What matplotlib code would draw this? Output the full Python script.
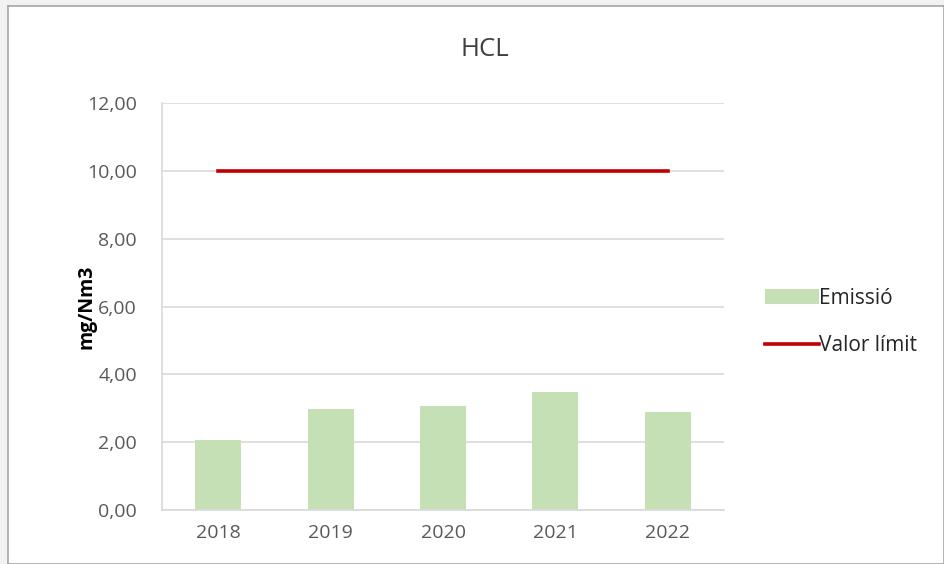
import matplotlib.pyplot as plt
import numpy as np

years = ['2018', '2019', '2020', '2021', '2022']
emissio = [2.05, 2.97, 3.08, 3.48, 2.90]
valor_limit = [10.0, 10.0, 10.0, 10.0, 10.0]
yticks = [0, 2, 4, 6, 8, 10, 12]

plt.rcParams['font.family'] = ['Open Sans', 'DejaVu Sans']

fig = plt.figure(figsize=(9.44, 5.64), dpi=100)
fig.patch.set_facecolor('#f2f2f2')

# white chart area with grey border
bg = fig.add_axes([8 / 944, 0, 1 - 8 / 944, 1 - 6 / 564], zorder=-1)
bg.set_facecolor('white')
bg.set_xticks([])
bg.set_yticks([])
for s in bg.spines.values():
    s.set_color('#a6a6a6')
    s.set_linewidth(1.2)

ax = fig.add_axes([162 / 944, 1 - 510 / 564, 562 / 944, 407 / 564])
ax.set_facecolor('none')

x = np.arange(len(years))
bars = ax.bar(x, emissio, width=0.41, color='#c5e0b4', label='Emissió', zorder=2)
line, = ax.plot(x, valor_limit, color='#c00000', linewidth=2.6, label='Valor límit', zorder=3)

ax.set_xlim(-0.5, len(years) - 0.5)
ax.set_ylim(0, 12)
ax.set_yticks(yticks)
ax.set_yticklabels([f'{v:.2f}'.replace('.', ',') for v in yticks])
ax.set_xticks(x)
ax.set_xticklabels(years)
ax.tick_params(length=0, labelsize=14, colors='#595959')
ax.tick_params(axis='y', pad=18)
ax.tick_params(axis='x', pad=10)
ax.grid(axis='y', color='#d9d9d9', linewidth=1.2, zorder=0)
for s in ['top', 'right']:
    ax.spines[s].set_visible(False)
ax.spines['left'].set_color('#d9d9d9')
ax.spines['bottom'].set_color('#d9d9d9')
ax.spines['left'].set_linewidth(1.2)
ax.spines['bottom'].set_linewidth(1.2)

ax.set_ylabel('mg/Nm3', fontsize=14, fontweight='bold', color='black')
ax.yaxis.set_label_coords(-0.117, 0.5)
fig.text(485 / 944, 1 - 50 / 564, 'HCL', ha='center', va='center', fontsize=18.5, color='#404040')

fig.legend([bars, line], ['Emissió', 'Valor límit'], loc='center left',
           bbox_to_anchor=(746 / 944, 1 - 322 / 564), frameon=False,
           fontsize=15, handlelength=2.6, handletextpad=0.0, labelspacing=1.25,
           labelcolor='#262626')

fig.savefig('out.png', dpi=100, facecolor=fig.get_facecolor())
